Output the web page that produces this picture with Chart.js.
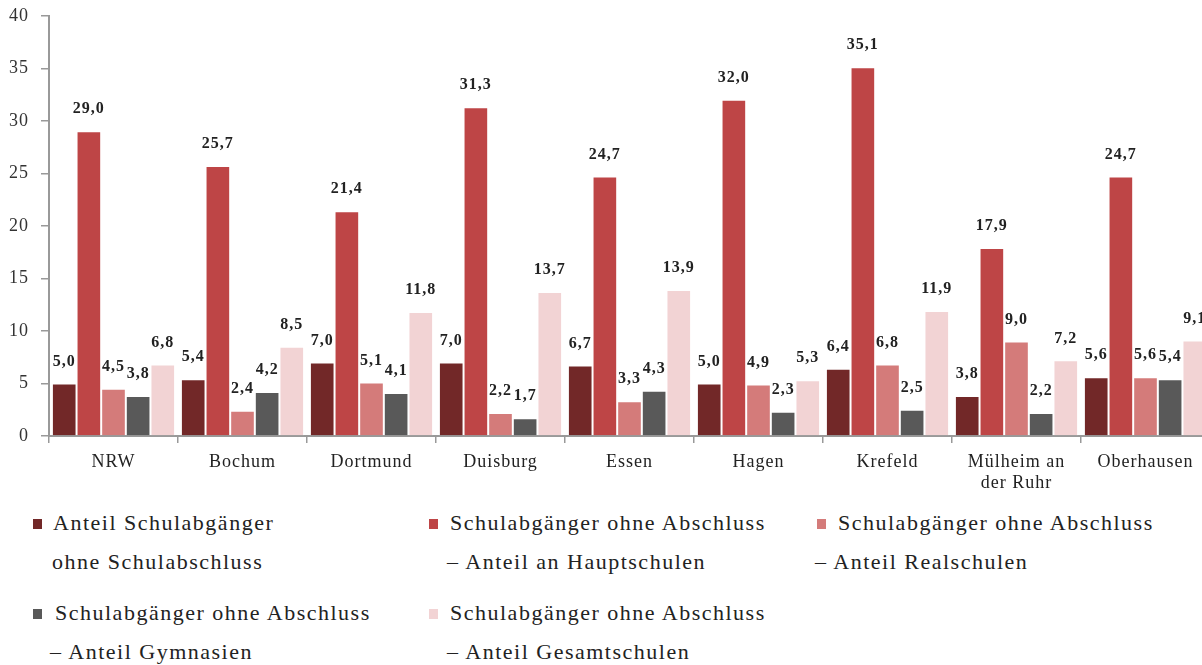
<!DOCTYPE html>
<html>
<head>
<meta charset="utf-8">
<script src="https://cdn.jsdelivr.net/npm/chart.js@4"></script>
<style>
  body { margin: 0; overflow: hidden; background: #fff; width: 1202px; height: 665px; position: relative; }
  #wrap { position: absolute; left: 0; top: -7px; width: 1212px; height: 507px; }
  .lg { position: absolute; font-family: "Liberation Serif", serif; font-size: 22px; letter-spacing: 1.5px; color: #222; white-space: nowrap; line-height: 22px; }
  .sq { position: absolute; width: 9px; height: 10px; }
</style>
</head>
<body>
<div id="wrap"><canvas id="chart" width="1212" height="507"></canvas></div>
<div id="legend"></div>
<script>
const cities = ['NRW', 'Bochum', 'Dortmund', 'Duisburg', 'Essen', 'Hagen', 'Krefeld', ['Mülheim an', 'der Ruhr'], 'Oberhausen'];

const ohneAbschluss = [5.0, 5.4, 7.0, 7.0, 6.7, 5.0, 6.4, 3.8, 5.6];
const hauptschulen  = [29.0, 25.7, 21.4, 31.3, 24.7, 32.0, 35.1, 17.9, 24.7];
const realschulen   = [4.5, 2.4, 5.1, 2.2, 3.3, 4.9, 6.8, 9.0, 5.6];
const gymnasien     = [3.8, 4.2, 4.1, 1.7, 4.3, 2.3, 2.5, 2.2, 5.4];
const gesamtschulen = [6.8, 8.5, 11.8, 13.7, 13.9, 5.3, 11.9, 7.2, 9.1];

const yTicks = [0, 5, 10, 15, 20, 25, 30, 35, 40];

const series = [
  { label: ['Anteil Schulabgänger', 'ohne Schulabschluss'], data: ohneAbschluss, color: '#722828' },
  { label: ['Schulabgänger ohne Abschluss', '– Anteil an Hauptschulen'], data: hauptschulen, color: '#BE4546' },
  { label: ['Schulabgänger ohne Abschluss', '– Anteil Realschulen'], data: realschulen, color: '#D47B7A' },
  { label: ['Schulabgänger ohne Abschluss', '– Anteil Gymnasien'], data: gymnasien, color: '#595959' },
  { label: ['Schulabgänger ohne Abschluss', '– Anteil Gesamtschulen'], data: gesamtschulen, color: '#F2D3D4' }
];

const serif = '"Liberation Serif", serif';

// value labels above each bar
const valueLabels = {
  id: 'valueLabels',
  beforeDraw(chart) { chart.ctx.letterSpacing = '1px'; },
  afterDatasetsDraw(chart) {
    const ctx = chart.ctx;
    ctx.save();
    ctx.font = 'bold 16px ' + serif;
    ctx.fillStyle = '#222';
    ctx.textAlign = 'center';
    ctx.textBaseline = 'middle';
    chart.data.datasets.forEach((ds, i) => {
      chart.getDatasetMeta(i).data.forEach((bar, j) => {
        ctx.fillText(ds.data[j].toFixed(1).replace('.', ','), bar.x, bar.y - 22);
      });
    });
    ctx.restore();
  }
};

new Chart(document.getElementById('chart').getContext('2d'), {
  type: 'bar',
  data: {
    labels: cities,
    datasets: series.map(s => ({
      label: s.label.join(' '),
      data: s.data,
      backgroundColor: s.color,
      borderColor: '#ffffff',
      borderWidth: 1,
      categoryPercentage: 0.955,
      barPercentage: 1
    }))
  },
  options: {
    responsive: false,
    animation: false,
    layout: { padding: { top: 8, right: 2, left: 0, bottom: 0 } },
    plugins: { legend: { display: false }, tooltip: { enabled: false } },
    scales: {
      x: {
        afterFit(scale) { scale.height = 64; },
        grid: { offset: true, drawOnChartArea: false, drawTicks: true, tickLength: 7, color: '#999', lineWidth: 1.5 },
        border: { color: '#999', width: 2 },
        ticks: { font: { family: serif, size: 18 }, color: '#222', padding: 8, maxRotation: 0 }
      },
      y: {
        min: 0, max: 40,
        afterFit(scale) { scale.width = 49; },
        afterBuildTicks(scale) { scale.ticks = yTicks.map(v => ({ value: v })); },
        grid: { drawOnChartArea: false, drawTicks: true, tickLength: 8, color: '#999', lineWidth: 1.5 },
        border: { color: '#999', width: 2 },
        ticks: { font: { family: serif, size: 18 }, color: '#333', padding: 12 }
      }
    }
  },
  plugins: [valueLabels]
});

// legend laid out in three columns like the original
const legendPos = [
  { sx: 33, tx: 53, t2x: 52, y: 512 },
  { sx: 429, tx: 450, t2x: 447, y: 512 },
  { sx: 817, tx: 838, t2x: 815, y: 512 },
  { sx: 33, tx: 55, t2x: 50, y: 602 },
  { sx: 429, tx: 450, t2x: 447, y: 602 }
];
const legend = document.getElementById('legend');
series.forEach((s, i) => {
  const p = legendPos[i];
  const sq = document.createElement('div');
  sq.className = 'sq';
  sq.style.left = p.sx + 'px';
  sq.style.top = (p.y + 7) + 'px';
  sq.style.background = s.color;
  legend.appendChild(sq);
  const l1 = document.createElement('div');
  l1.className = 'lg';
  l1.style.left = p.tx + 'px';
  l1.style.top = p.y + 'px';
  l1.textContent = s.label[0];
  legend.appendChild(l1);
  const l2 = document.createElement('div');
  l2.className = 'lg';
  l2.style.left = p.t2x + 'px';
  l2.style.top = (p.y + 39) + 'px';
  l2.textContent = s.label[1];
  legend.appendChild(l2);
});
</script>
</body>
</html>
